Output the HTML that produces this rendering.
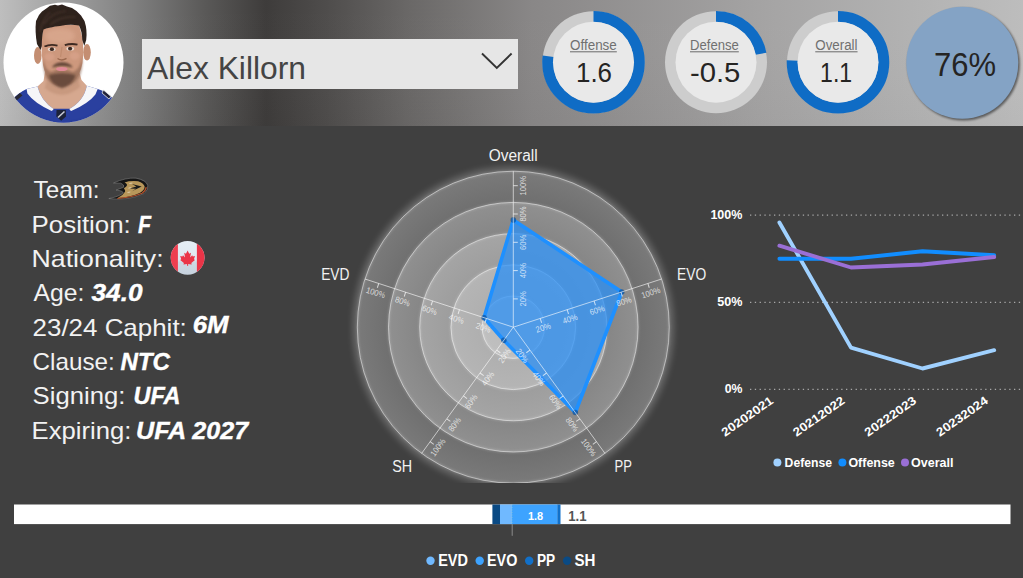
<!DOCTYPE html>
<html lang="en"><head><meta charset="utf-8"><title>Player Card - Alex Killorn</title>
<style>
html,body{margin:0;padding:0;background:#404040;overflow:hidden}
body{width:1023px;height:578px;font-family:"Liberation Sans",sans-serif}
svg{display:block}
</style></head><body>
<svg width="1023" height="578" viewBox="0 0 1023 578" font-family="Liberation Sans, sans-serif">
<defs>
<linearGradient id="hdr" x1="0" y1="0" x2="1" y2="0">
<stop offset="0" stop-color="#bebebe"/>
<stop offset="0.04" stop-color="#ababab"/>
<stop offset="0.08" stop-color="#989898"/>
<stop offset="0.13" stop-color="#808080"/>
<stop offset="0.20" stop-color="#5a5958"/>
<stop offset="0.26" stop-color="#3e3c3b"/>
<stop offset="0.32" stop-color="#4f4d4c"/>
<stop offset="0.40" stop-color="#6a6867"/>
<stop offset="0.52" stop-color="#898787"/>
<stop offset="0.75" stop-color="#a5a4a4"/>
<stop offset="0.9" stop-color="#b3b3b3"/>
<stop offset="1" stop-color="#bdbdbd"/>
</linearGradient>
<linearGradient id="hdrv" x1="0" y1="0" x2="0" y2="1">
<stop offset="0" stop-color="#fff" stop-opacity="0.0"/>
<stop offset="1" stop-color="#000" stop-opacity="0.025"/>
</linearGradient>
<clipPath id="avc"><circle cx="63.5" cy="62.5" r="60"/></clipPath>
<clipPath id="radclip"><rect x="340" y="140" width="350" height="343"/></clipPath>
<filter id="b1" x="-20%" y="-20%" width="140%" height="140%"><feGaussianBlur stdDeviation="1"/></filter>
<filter id="b2" x="-20%" y="-20%" width="140%" height="140%"><feGaussianBlur stdDeviation="2"/></filter>
<filter id="b3" x="-20%" y="-20%" width="140%" height="140%"><feGaussianBlur stdDeviation="3"/></filter>
<filter id="b06" x="-20%" y="-20%" width="140%" height="140%"><feGaussianBlur stdDeviation="0.6"/></filter>
</defs>
<rect x="0" y="0" width="1023" height="578" fill="#404040"/>
<rect x="0" y="0" width="1023" height="126" fill="url(#hdr)"/>
<rect x="0" y="0" width="1023" height="126" fill="url(#hdrv)"/>
<g id="avatar">
<circle cx="63.5" cy="62.5" r="60" fill="#ffffff"/>
<g clip-path="url(#avc)">
<path d="M4 126 L12 100 Q18 93 26.6 89 L37.5 86.6 L62 112 L86.8 85.8 L97.7 89 Q108 92 113 99 L122 126 Z" fill="#2a3f9f" filter="url(#b06)"/>
<path d="M20 108 Q40 122 62 123 Q86 122 106 106 L112 126 L12 126 Z" fill="#22358c" opacity="0.5" filter="url(#b1)"/>
<path d="M45 72 L79 71 L81.5 80 L86.8 85.8 Q84 101 68.8 109.3 L62 110.5 L54 109.3 Q41 101 37.5 86.6 L43.5 81 Z" fill="#d6a88f" filter="url(#b06)"/>
<path d="M46.5 80 Q62 97 78.5 79 L80 87 Q62 102 45 88 Z" fill="#b98a70" opacity="0.5" filter="url(#b1)"/>
<path d="M26.6 89 L37.5 86.6 Q41 101 54 109.3 L51.6 111 Q34 103 27.4 93.6 Z" fill="#f6f6f8" filter="url(#b06)"/>
<path d="M97.7 89 L86.8 85.8 Q84 101 68.8 109.3 L71.2 111 Q89 103 95.4 94.4 Z" fill="#f6f6f8" filter="url(#b06)"/>
<path d="M14 98 L20 93 L22.5 95.5 L16.5 100.5 Z" fill="#2a2a35" filter="url(#b06)"/>
<path d="M103.5 90 L111 96.5 L109 99 L102 93 Z" fill="#20243a" stroke="#e8e8e8" stroke-width="0.8" filter="url(#b06)"/>
<path d="M53.5 108.8 L69.5 108.8 L70 126 L53 126 Z" fill="#2a3f9f" filter="url(#b06)"/>
<path d="M56.5 110 L65.8 110 L66 116.5 L61.2 120.8 L56.3 116.5 Z" fill="#1d2238" filter="url(#b06)"/>
<path d="M58 117.5 L64.5 111.5" stroke="#c9ccd6" stroke-width="1.6" filter="url(#b06)"/>
<ellipse cx="37.8" cy="55.5" rx="3.8" ry="8.5" fill="#c48e72" filter="url(#b06)"/>
<ellipse cx="87" cy="52.3" rx="3.8" ry="8.3" fill="#c48e72" filter="url(#b06)"/>
<path d="M41.5 40 Q41 52 43 65 Q45 76 52 83 Q62 90.5 72.5 83 Q80 76 82.5 63 Q84 50 82.5 38 L79 25 L60 25 L43 29 Z" fill="#cd987d" filter="url(#b06)"/>
<ellipse cx="60" cy="36" rx="15" ry="8" fill="#dcab92" opacity="0.7" filter="url(#b2)"/>
<ellipse cx="49.5" cy="57" rx="5" ry="4" fill="#dba58e" opacity="0.6" filter="url(#b1)"/>
<ellipse cx="74.5" cy="56" rx="5" ry="4" fill="#dba58e" opacity="0.6" filter="url(#b1)"/>
<path d="M42.8 58 Q45 70 51 72 Q62 66 73 72 Q80 70 82.6 56 Q83 70 79 78 Q73 86 62 88.5 Q51 86 46 78 Q42.8 70 42.8 58 Z" fill="#8a6350" opacity="0.62" filter="url(#b1)"/>
<path d="M49 75 Q62 71.5 75.5 75 Q74 84 62 87.8 Q50 84 49 75 Z" fill="#5c4034" opacity="0.8" filter="url(#b1)"/>
<path d="M52.2 67.8 Q53.5 63 62 62.3 Q71 63 72.6 67.8 Q67 65.6 62 66 Q57 65.6 52.2 67.8 Z" fill="#553a2f" opacity="0.9" filter="url(#b1)"/>
<ellipse cx="61.8" cy="69" rx="5.8" ry="2.1" fill="#e08a97" filter="url(#b06)"/>
<path d="M62 47 L60.5 57" stroke="#b98466" stroke-width="1.2" fill="none" opacity="0.6" filter="url(#b06)"/>
<path d="M57.5 58.5 Q62 61.5 66.5 58.3" stroke="#9c6a50" stroke-width="1.5" fill="none" filter="url(#b06)"/>
<ellipse cx="51.7" cy="49.3" rx="3.9" ry="1.9" fill="#e9d9cf" filter="url(#b06)"/>
<ellipse cx="51.9" cy="49.2" rx="2.1" ry="1.9" fill="#3b2a24" filter="url(#b06)"/>
<ellipse cx="70.3" cy="48.7" rx="3.9" ry="1.9" fill="#e9d9cf" filter="url(#b06)"/>
<ellipse cx="70.1" cy="48.6" rx="2.1" ry="1.9" fill="#3b2a24" filter="url(#b06)"/>
<path d="M44.5 46.6 Q50 43.8 57.5 45.6" stroke="#3e2a22" stroke-width="1.9" fill="none" filter="url(#b06)"/>
<path d="M64.8 45.2 Q71 43 77.5 44.6" stroke="#3e2a22" stroke-width="1.9" fill="none" filter="url(#b06)"/>
<path d="M40.5 50 L37 44 Q34.8 32 36 21 L39 15 L42 11.5 L47 8 L50 5.8 L55 4.8 L58 5.6 L62 4.6 L67 6.4 L72 8 L76.5 11 L81 15.5 L84.5 21 Q87.5 30 86.2 40 L84.3 46 L82.3 40 Q82 31 79 25.5 Q70 23.8 60 26 Q50 27 43.5 29.5 Q41.8 36 41.8 46 Z" fill="#2d211d" filter="url(#b06)"/>
<path d="M44 24 Q52 12 66 11 M50 25 Q60 16 76 17 M40 32 Q42 20 50 12" stroke="#4a372e" stroke-width="1.6" fill="none" opacity="0.7" filter="url(#b1)"/>
</g></g>
<rect x="142" y="39" width="376" height="50" fill="#e6e6e6"/>
<text x="147" y="78.7" font-size="32" fill="#444444" textLength="159" lengthAdjust="spacingAndGlyphs">Alex Killorn</text>
<path d="M482 53.5 L496.8 68 L511.6 53.5" fill="none" stroke="#333" stroke-width="1.9"/>
<circle cx="593.5" cy="62.2" r="51" fill="#cdcdcd"/>
<circle cx="593.5" cy="62.2" r="45.75" fill="none" stroke="#0f6cc5" stroke-width="11.1" stroke-dasharray="221.34 287.46" transform="rotate(-90 593.5 62.2)"/>
<circle cx="593.5" cy="62.2" r="40.5" fill="#e9e9e9"/>
<text x="593.4" y="50" font-size="14" fill="#707070" text-anchor="middle" textLength="46.8" lengthAdjust="spacingAndGlyphs">Offense</text>
<rect x="570.0" y="51.3" width="46.8" height="1" fill="#6a6a6a"/>
<text x="594" y="82" font-size="28" fill="#252423" text-anchor="middle" textLength="36" lengthAdjust="spacingAndGlyphs">1.6</text>
<circle cx="716" cy="62.2" r="51" fill="#cdcdcd"/>
<circle cx="716" cy="62.2" r="45.75" fill="none" stroke="#0f6cc5" stroke-width="11.1" stroke-dasharray="63.24 287.46" transform="rotate(-90 716 62.2)"/>
<circle cx="716" cy="62.2" r="40.5" fill="#e9e9e9"/>
<text x="714.4" y="50" font-size="14" fill="#707070" text-anchor="middle" textLength="48.8" lengthAdjust="spacingAndGlyphs">Defense</text>
<rect x="690.0" y="51.3" width="48.8" height="1" fill="#6a6a6a"/>
<text x="715.1" y="82" font-size="28" fill="#252423" text-anchor="middle" textLength="50.4" lengthAdjust="spacingAndGlyphs">-0.5</text>
<circle cx="838" cy="62.2" r="51" fill="#cdcdcd"/>
<circle cx="838" cy="62.2" r="45.75" fill="none" stroke="#0f6cc5" stroke-width="11.1" stroke-dasharray="217.03 287.46" transform="rotate(-90 838 62.2)"/>
<circle cx="838" cy="62.2" r="40.5" fill="#e9e9e9"/>
<text x="836.4" y="50" font-size="14" fill="#707070" text-anchor="middle" textLength="42.3" lengthAdjust="spacingAndGlyphs">Overall</text>
<rect x="815.25" y="51.3" width="42.3" height="1" fill="#6a6a6a"/>
<text x="836.1" y="82" font-size="28" fill="#252423" text-anchor="middle" textLength="32" lengthAdjust="spacingAndGlyphs">1.1</text>
<circle cx="963.7" cy="64.3" r="56.2" fill="#000" opacity="0.5" filter="url(#b1)"/>
<circle cx="962.3" cy="62.8" r="56" fill="#84a3c5"/>
<text x="965.1" y="76" font-size="34" fill="#252423" text-anchor="middle" textLength="62" lengthAdjust="spacingAndGlyphs">76%</text>
<text x="33.6" y="198.4" font-size="24" fill="#f2f2f2" textLength="66" lengthAdjust="spacingAndGlyphs">Team:</text>
<text x="31.6" y="232.7" font-size="24" fill="#f2f2f2" textLength="99.2" lengthAdjust="spacingAndGlyphs">Position:</text>
<text x="138" y="232.7" font-size="24" fill="#ffffff" font-weight="bold" font-style="italic" textLength="13" lengthAdjust="spacingAndGlyphs" stroke="#fff" stroke-width="0.4">F</text>
<text x="31.6" y="267.0" font-size="24" fill="#f2f2f2" textLength="132" lengthAdjust="spacingAndGlyphs">Nationality:</text>
<text x="33.6" y="301.3" font-size="24" fill="#f2f2f2" textLength="50.8" lengthAdjust="spacingAndGlyphs">Age:</text>
<text x="91.5" y="301.3" font-size="24" fill="#ffffff" font-weight="bold" font-style="italic" textLength="51" lengthAdjust="spacingAndGlyphs" stroke="#fff" stroke-width="0.4">34.0</text>
<text x="32.6" y="335.6" font-size="24" fill="#f2f2f2" textLength="154.2" lengthAdjust="spacingAndGlyphs">23/24 Caphit:</text>
<text x="192.7" y="333.1" font-size="24" fill="#ffffff" font-weight="bold" font-style="italic" textLength="35.9" lengthAdjust="spacingAndGlyphs" stroke="#fff" stroke-width="0.4">6M</text>
<text x="32.6" y="369.9" font-size="24" fill="#f2f2f2" textLength="82.2" lengthAdjust="spacingAndGlyphs">Clause:</text>
<text x="120.4" y="369.9" font-size="24" fill="#ffffff" font-weight="bold" font-style="italic" textLength="49.7" lengthAdjust="spacingAndGlyphs" stroke="#fff" stroke-width="0.4">NTC</text>
<text x="32.6" y="404.2" font-size="24" fill="#f2f2f2" textLength="92.8" lengthAdjust="spacingAndGlyphs">Signing:</text>
<text x="133.5" y="404.2" font-size="24" fill="#ffffff" font-weight="bold" font-style="italic" textLength="46.9" lengthAdjust="spacingAndGlyphs" stroke="#fff" stroke-width="0.4">UFA</text>
<text x="31.6" y="438.5" font-size="24" fill="#f2f2f2" textLength="99.8" lengthAdjust="spacingAndGlyphs">Expiring:</text>
<text x="136" y="438.5" font-size="24" fill="#ffffff" font-weight="bold" font-style="italic" textLength="112.2" lengthAdjust="spacingAndGlyphs" stroke="#fff" stroke-width="0.4">UFA 2027</text>
<g id="duck">
<path d="M 108.86 198.58 Q 129.07 201.00 144.29 193.39 Q 148.44 189.38 147.75 185.57 Q 146.51 180.24 135.99 178.17 Q 125.61 177.47 113.49 183.01 L 120.76 183.15 Q 124.91 184.88 123.53 187.30 L 116.06 190.07 Q 122.84 190.76 123.18 192.84 Q 120.07 196.30 108.86 198.58 Z" fill="#161616" stroke="#8a8a8a" stroke-width="0.5"/>
<path d="M 124.57 182.46 Q 129.76 180.52 138.06 181.21 Q 143.74 183.01 144.64 186.47 Q 144.84 189.79 140.14 192.70 Q 131.14 196.99 117.65 198.10 Q 122.84 195.61 125.05 191.80 Q 125.61 190.07 123.88 188.13 Q 126.64 186.61 127.13 184.88 Q 126.64 183.49 124.57 182.46 Z" fill="#b8975a"/>
<path d="M 117.30 198.51 Q 131.14 197.54 141.94 193.25 Q 145.95 190.42 146.23 187.16" fill="none" stroke="#b4522c" stroke-width="1.2"/>
<path d="M 131.97 184.05 L 141.66 186.61 L 131.97 191.18 L 135.99 188.69 L 129.62 188.41 L 136.33 186.61 Z" fill="#1a1a1a"/>
<path d="M 129.41 183.49 L 132.39 183.01 M 128.51 188.13 L 131.28 187.65 M 127.54 192.49 L 130.31 192.01" stroke="#e8e0d0" stroke-width="0.7" fill="none"/>
</g>
<g id="flag"><defs><clipPath id="fc"><circle cx="187.6" cy="257.8" r="16.9"/></clipPath><linearGradient id="fw" x1="0" y1="0" x2="0" y2="1"><stop offset="0" stop-color="#e6eef5"/><stop offset="0.55" stop-color="#dfe8f0"/><stop offset="0.62" stop-color="#cdd8e3"/><stop offset="1" stop-color="#c6d2de"/></linearGradient></defs>
<g clip-path="url(#fc)"><rect x="170" y="240" width="36" height="36" fill="url(#fw)"/>
<rect x="170" y="240" width="7.9" height="36" fill="#ee3f4f"/><rect x="196.9" y="240" width="9" height="36" fill="#ea3447"/>
<polygon points="187.60,250.60 189.23,253.71 191.00,252.82 190.12,257.42 192.19,255.20 192.78,256.53 195.00,256.09 193.96,259.35 195.00,260.02 191.30,263.06 191.74,264.39 188.12,263.95 188.19,265.80 187.01,265.80 187.08,263.95 183.46,264.39 183.90,263.06 180.20,260.02 181.24,259.35 180.20,256.09 182.42,256.53 183.01,255.20 185.08,257.42 184.20,252.82 185.97,253.71" fill="#eb3547"/>
</g></g>
<g id="radar" clip-path="url(#radclip)">
<circle cx="513.3" cy="327.2" r="157.0" fill="none" stroke="#fff" stroke-width="7" opacity="0.22" filter="url(#b3)"/>
<defs>
<radialGradient id="bg0" cx="513.3" cy="327.2" r="156.0" gradientUnits="userSpaceOnUse"><stop offset="0.800" stop-color="#6f6f6f"/><stop offset="1" stop-color="#7a7a7a"/></radialGradient>
<radialGradient id="bg1" cx="513.3" cy="327.2" r="124.8" gradientUnits="userSpaceOnUse"><stop offset="0.750" stop-color="#868686"/><stop offset="1" stop-color="#909090"/></radialGradient>
<radialGradient id="bg2" cx="513.3" cy="327.2" r="93.6" gradientUnits="userSpaceOnUse"><stop offset="0.667" stop-color="#9d9d9d"/><stop offset="1" stop-color="#a5a5a5"/></radialGradient>
<radialGradient id="bg3" cx="513.3" cy="327.2" r="62.4" gradientUnits="userSpaceOnUse"><stop offset="0.500" stop-color="#afafaf"/><stop offset="1" stop-color="#b5b5b5"/></radialGradient>
<radialGradient id="bg4" cx="513.3" cy="327.2" r="31.2" gradientUnits="userSpaceOnUse"><stop offset="0.000" stop-color="#bbbbbb"/><stop offset="1" stop-color="#bfbfbf"/></radialGradient>
</defs>
<circle cx="513.3" cy="327.2" r="156.0" fill="url(#bg0)"/>
<circle cx="513.3" cy="327.2" r="124.8" fill="url(#bg1)"/>
<circle cx="513.3" cy="327.2" r="93.6" fill="url(#bg2)"/>
<circle cx="513.3" cy="327.2" r="62.4" fill="url(#bg3)"/>
<circle cx="513.3" cy="327.2" r="31.2" fill="url(#bg4)"/>
<circle cx="513.3" cy="327.2" r="156.0" fill="none" stroke="#fff" stroke-width="2.5" opacity="0.15" filter="url(#b1)"/>
<circle cx="513.3" cy="327.2" r="156.0" fill="none" stroke="#fff" stroke-width="0.9" opacity="0.55"/>
<circle cx="513.3" cy="327.2" r="124.8" fill="none" stroke="#fff" stroke-width="2.5" opacity="0.15" filter="url(#b1)"/>
<circle cx="513.3" cy="327.2" r="124.8" fill="none" stroke="#fff" stroke-width="0.9" opacity="0.55"/>
<circle cx="513.3" cy="327.2" r="93.6" fill="none" stroke="#fff" stroke-width="2.5" opacity="0.15" filter="url(#b1)"/>
<circle cx="513.3" cy="327.2" r="93.6" fill="none" stroke="#fff" stroke-width="0.9" opacity="0.55"/>
<circle cx="513.3" cy="327.2" r="62.4" fill="none" stroke="#fff" stroke-width="2.5" opacity="0.15" filter="url(#b1)"/>
<circle cx="513.3" cy="327.2" r="62.4" fill="none" stroke="#fff" stroke-width="0.9" opacity="0.55"/>
<circle cx="513.3" cy="327.2" r="31.2" fill="none" stroke="#fff" stroke-width="2.5" opacity="0.15" filter="url(#b1)"/>
<circle cx="513.3" cy="327.2" r="31.2" fill="none" stroke="#fff" stroke-width="0.9" opacity="0.55"/>
<polygon points="513.3,219.9 621.8,292.0 575.3,412.5 503.8,340.3 484.0,317.7" fill="#2a8ff5" fill-opacity="0.74" stroke="#1e90ff" stroke-width="3.6" stroke-linejoin="round"/>
<circle cx="513.3" cy="219.9" r="2.8" fill="#0a4688" opacity="0.6"/>
<circle cx="621.8" cy="292.0" r="2.8" fill="#0a4688" opacity="0.6"/>
<circle cx="575.3" cy="412.5" r="2.8" fill="#0a4688" opacity="0.6"/>
<circle cx="503.8" cy="340.3" r="2.8" fill="#0a4688" opacity="0.6"/>
<circle cx="484.0" cy="317.7" r="2.8" fill="#0a4688" opacity="0.6"/>
<line x1="513.3" y1="327.2" x2="513.30" y2="171.20" stroke="#fff" stroke-width="1" opacity="0.6"/>
<line x1="513.3" y1="327.2" x2="661.66" y2="278.99" stroke="#fff" stroke-width="1" opacity="0.6"/>
<line x1="513.3" y1="327.2" x2="604.99" y2="453.41" stroke="#fff" stroke-width="1" opacity="0.6"/>
<line x1="513.3" y1="327.2" x2="421.61" y2="453.41" stroke="#fff" stroke-width="1" opacity="0.6"/>
<line x1="513.3" y1="327.2" x2="364.94" y2="278.99" stroke="#fff" stroke-width="1" opacity="0.6"/>
<g transform="translate(513.3,327.2) rotate(-90)">
<line x1="28.3" y1="0" x2="28.3" y2="4.5" stroke="#fff" stroke-width="1" opacity="0.7"/>
<text x="28.3" y="12.6" font-size="8.5" fill="#fff" fill-opacity="0.72" text-anchor="middle" textLength="15.2" lengthAdjust="spacingAndGlyphs">20%</text>
<line x1="56.6" y1="0" x2="56.6" y2="4.5" stroke="#fff" stroke-width="1" opacity="0.7"/>
<text x="56.6" y="12.6" font-size="8.5" fill="#fff" fill-opacity="0.72" text-anchor="middle" textLength="15.2" lengthAdjust="spacingAndGlyphs">40%</text>
<line x1="84.9" y1="0" x2="84.9" y2="4.5" stroke="#fff" stroke-width="1" opacity="0.7"/>
<text x="84.9" y="12.6" font-size="8.5" fill="#fff" fill-opacity="0.72" text-anchor="middle" textLength="15.2" lengthAdjust="spacingAndGlyphs">60%</text>
<line x1="113.2" y1="0" x2="113.2" y2="4.5" stroke="#fff" stroke-width="1" opacity="0.7"/>
<text x="113.2" y="12.6" font-size="8.5" fill="#fff" fill-opacity="0.72" text-anchor="middle" textLength="15.2" lengthAdjust="spacingAndGlyphs">80%</text>
<line x1="141.5" y1="0" x2="141.5" y2="4.5" stroke="#fff" stroke-width="1" opacity="0.7"/>
<text x="141.5" y="12.6" font-size="8.5" fill="#fff" fill-opacity="0.72" text-anchor="middle" textLength="19.5" lengthAdjust="spacingAndGlyphs">100%</text>
</g>
<g transform="translate(513.3,327.2) rotate(-18)">
<line x1="28.3" y1="0" x2="28.3" y2="4.5" stroke="#fff" stroke-width="1" opacity="0.7"/>
<text x="28.3" y="12.6" font-size="8.5" fill="#fff" fill-opacity="0.72" text-anchor="middle" textLength="15.2" lengthAdjust="spacingAndGlyphs">20%</text>
<line x1="56.6" y1="0" x2="56.6" y2="4.5" stroke="#fff" stroke-width="1" opacity="0.7"/>
<text x="56.6" y="12.6" font-size="8.5" fill="#fff" fill-opacity="0.72" text-anchor="middle" textLength="15.2" lengthAdjust="spacingAndGlyphs">40%</text>
<line x1="84.9" y1="0" x2="84.9" y2="4.5" stroke="#fff" stroke-width="1" opacity="0.7"/>
<text x="84.9" y="12.6" font-size="8.5" fill="#fff" fill-opacity="0.72" text-anchor="middle" textLength="15.2" lengthAdjust="spacingAndGlyphs">60%</text>
<line x1="113.2" y1="0" x2="113.2" y2="4.5" stroke="#fff" stroke-width="1" opacity="0.7"/>
<text x="113.2" y="12.6" font-size="8.5" fill="#fff" fill-opacity="0.72" text-anchor="middle" textLength="15.2" lengthAdjust="spacingAndGlyphs">80%</text>
<line x1="141.5" y1="0" x2="141.5" y2="4.5" stroke="#fff" stroke-width="1" opacity="0.7"/>
<text x="141.5" y="12.6" font-size="8.5" fill="#fff" fill-opacity="0.72" text-anchor="middle" textLength="19.5" lengthAdjust="spacingAndGlyphs">100%</text>
</g>
<g transform="translate(513.3,327.2) rotate(54)">
<line x1="28.3" y1="0" x2="28.3" y2="4.5" stroke="#fff" stroke-width="1" opacity="0.7"/>
<text x="28.3" y="12.6" font-size="8.5" fill="#fff" fill-opacity="0.72" text-anchor="middle" textLength="15.2" lengthAdjust="spacingAndGlyphs">20%</text>
<line x1="56.6" y1="0" x2="56.6" y2="4.5" stroke="#fff" stroke-width="1" opacity="0.7"/>
<text x="56.6" y="12.6" font-size="8.5" fill="#fff" fill-opacity="0.72" text-anchor="middle" textLength="15.2" lengthAdjust="spacingAndGlyphs">40%</text>
<line x1="84.9" y1="0" x2="84.9" y2="4.5" stroke="#fff" stroke-width="1" opacity="0.7"/>
<text x="84.9" y="12.6" font-size="8.5" fill="#fff" fill-opacity="0.72" text-anchor="middle" textLength="15.2" lengthAdjust="spacingAndGlyphs">60%</text>
<line x1="113.2" y1="0" x2="113.2" y2="4.5" stroke="#fff" stroke-width="1" opacity="0.7"/>
<text x="113.2" y="12.6" font-size="8.5" fill="#fff" fill-opacity="0.72" text-anchor="middle" textLength="15.2" lengthAdjust="spacingAndGlyphs">80%</text>
<line x1="141.5" y1="0" x2="141.5" y2="4.5" stroke="#fff" stroke-width="1" opacity="0.7"/>
<text x="141.5" y="12.6" font-size="8.5" fill="#fff" fill-opacity="0.72" text-anchor="middle" textLength="19.5" lengthAdjust="spacingAndGlyphs">100%</text>
</g>
<g transform="translate(513.3,327.2) rotate(-54)">
<line x1="-28.3" y1="0" x2="-28.3" y2="4.5" stroke="#fff" stroke-width="1" opacity="0.7"/>
<text x="-28.3" y="12.6" font-size="8.5" fill="#fff" fill-opacity="0.72" text-anchor="middle" textLength="15.2" lengthAdjust="spacingAndGlyphs">20%</text>
<line x1="-56.6" y1="0" x2="-56.6" y2="4.5" stroke="#fff" stroke-width="1" opacity="0.7"/>
<text x="-56.6" y="12.6" font-size="8.5" fill="#fff" fill-opacity="0.72" text-anchor="middle" textLength="15.2" lengthAdjust="spacingAndGlyphs">40%</text>
<line x1="-84.9" y1="0" x2="-84.9" y2="4.5" stroke="#fff" stroke-width="1" opacity="0.7"/>
<text x="-84.9" y="12.6" font-size="8.5" fill="#fff" fill-opacity="0.72" text-anchor="middle" textLength="15.2" lengthAdjust="spacingAndGlyphs">60%</text>
<line x1="-113.2" y1="0" x2="-113.2" y2="4.5" stroke="#fff" stroke-width="1" opacity="0.7"/>
<text x="-113.2" y="12.6" font-size="8.5" fill="#fff" fill-opacity="0.72" text-anchor="middle" textLength="15.2" lengthAdjust="spacingAndGlyphs">80%</text>
<line x1="-141.5" y1="0" x2="-141.5" y2="4.5" stroke="#fff" stroke-width="1" opacity="0.7"/>
<text x="-141.5" y="12.6" font-size="8.5" fill="#fff" fill-opacity="0.72" text-anchor="middle" textLength="19.5" lengthAdjust="spacingAndGlyphs">100%</text>
</g>
<g transform="translate(513.3,327.2) rotate(18)">
<line x1="-28.3" y1="0" x2="-28.3" y2="4.5" stroke="#fff" stroke-width="1" opacity="0.7"/>
<text x="-28.3" y="12.6" font-size="8.5" fill="#fff" fill-opacity="0.72" text-anchor="middle" textLength="15.2" lengthAdjust="spacingAndGlyphs">20%</text>
<line x1="-56.6" y1="0" x2="-56.6" y2="4.5" stroke="#fff" stroke-width="1" opacity="0.7"/>
<text x="-56.6" y="12.6" font-size="8.5" fill="#fff" fill-opacity="0.72" text-anchor="middle" textLength="15.2" lengthAdjust="spacingAndGlyphs">40%</text>
<line x1="-84.9" y1="0" x2="-84.9" y2="4.5" stroke="#fff" stroke-width="1" opacity="0.7"/>
<text x="-84.9" y="12.6" font-size="8.5" fill="#fff" fill-opacity="0.72" text-anchor="middle" textLength="15.2" lengthAdjust="spacingAndGlyphs">60%</text>
<line x1="-113.2" y1="0" x2="-113.2" y2="4.5" stroke="#fff" stroke-width="1" opacity="0.7"/>
<text x="-113.2" y="12.6" font-size="8.5" fill="#fff" fill-opacity="0.72" text-anchor="middle" textLength="15.2" lengthAdjust="spacingAndGlyphs">80%</text>
<line x1="-141.5" y1="0" x2="-141.5" y2="4.5" stroke="#fff" stroke-width="1" opacity="0.7"/>
<text x="-141.5" y="12.6" font-size="8.5" fill="#fff" fill-opacity="0.72" text-anchor="middle" textLength="19.5" lengthAdjust="spacingAndGlyphs">100%</text>
</g>
</g>
<text x="513.2" y="161.3" font-size="16" fill="#f2f2f2" text-anchor="middle" textLength="49" lengthAdjust="spacingAndGlyphs">Overall</text>
<text x="321.2" y="279.8" font-size="16" fill="#f2f2f2" textLength="28.3" lengthAdjust="spacingAndGlyphs">EVD</text>
<text x="677" y="279.8" font-size="16" fill="#f2f2f2" textLength="29.2" lengthAdjust="spacingAndGlyphs">EVO</text>
<text x="392.2" y="472" font-size="16" fill="#f2f2f2" textLength="19.9" lengthAdjust="spacingAndGlyphs">SH</text>
<text x="614.6" y="472" font-size="16" fill="#f2f2f2" textLength="17.4" lengthAdjust="spacingAndGlyphs">PP</text>
<line x1="750" y1="215.2" x2="1023" y2="215.2" stroke="#bbb" stroke-width="1.3" stroke-dasharray="1.3 3.5" opacity="0.85"/>
<text x="742.4" y="219.1" font-size="12" fill="#ffffff" text-anchor="end" font-weight="bold" textLength="32" lengthAdjust="spacingAndGlyphs">100%</text>
<line x1="750" y1="302.3" x2="1023" y2="302.3" stroke="#bbb" stroke-width="1.3" stroke-dasharray="1.3 3.5" opacity="0.85"/>
<text x="742.4" y="306.2" font-size="12" fill="#ffffff" text-anchor="end" font-weight="bold" textLength="25.2" lengthAdjust="spacingAndGlyphs">50%</text>
<line x1="750" y1="389.4" x2="1023" y2="389.4" stroke="#bbb" stroke-width="1.3" stroke-dasharray="1.3 3.5" opacity="0.85"/>
<text x="742.4" y="393.3" font-size="12" fill="#ffffff" text-anchor="end" font-weight="bold" textLength="17.7" lengthAdjust="spacingAndGlyphs">0%</text>
<polyline points="779.4,222.5 851.0,347.6 922.5,368.5 994.2,350.2" fill="none" stroke="#a0d1ff" stroke-width="3.9" stroke-linecap="round" stroke-linejoin="round"/>
<polyline points="779.4,258.8 851.0,258.8 922.5,251.3 994.2,255.3" fill="none" stroke="#118dff" stroke-width="3.9" stroke-linecap="round" stroke-linejoin="round"/>
<polyline points="779.4,245.7 851.0,267.5 922.5,264.5 994.2,257.0" fill="none" stroke="#9a6fd6" stroke-width="3.9" stroke-linecap="round" stroke-linejoin="round"/>
<text transform="translate(774.1,402.5) rotate(-35)" font-size="12" font-weight="bold" fill="#fff" text-anchor="end" textLength="60" lengthAdjust="spacingAndGlyphs">20202021</text>
<text transform="translate(845.7,402.5) rotate(-35)" font-size="12" font-weight="bold" fill="#fff" text-anchor="end" textLength="60" lengthAdjust="spacingAndGlyphs">20212022</text>
<text transform="translate(917.2,402.5) rotate(-35)" font-size="12" font-weight="bold" fill="#fff" text-anchor="end" textLength="60" lengthAdjust="spacingAndGlyphs">20222023</text>
<text transform="translate(988.9,402.5) rotate(-35)" font-size="12" font-weight="bold" fill="#fff" text-anchor="end" textLength="60" lengthAdjust="spacingAndGlyphs">20232024</text>
<circle cx="777.4" cy="462.6" r="4" fill="#a0d1ff"/>
<text x="784.6" y="466.9" font-size="12" fill="#ffffff" font-weight="bold" textLength="47.4" lengthAdjust="spacingAndGlyphs">Defense</text>
<circle cx="842.4" cy="462.6" r="4" fill="#118dff"/>
<text x="848.4" y="466.9" font-size="12" fill="#ffffff" font-weight="bold" textLength="46.4" lengthAdjust="spacingAndGlyphs">Offense</text>
<circle cx="905" cy="462.6" r="4" fill="#9a6fd6"/>
<text x="911" y="466.9" font-size="12" fill="#ffffff" font-weight="bold" textLength="42.5" lengthAdjust="spacingAndGlyphs">Overall</text>
<rect x="14" y="504.5" width="996.5" height="19.6" fill="#ffffff"/>
<rect x="492.4" y="504.5" width="7.7" height="19.6" fill="#0a4a84"/>
<rect x="500" y="504.5" width="12" height="19.6" fill="#70b9ff"/>
<rect x="512" y="504.5" width="45.4" height="19.6" fill="#3da3ff"/>
<rect x="557.3" y="504.5" width="3.2" height="19.6" fill="#1170c9"/>
<line x1="512" y1="504.5" x2="512" y2="524" stroke="#9cc" stroke-width="0.8" stroke-dasharray="1 1.5" opacity="0.8"/>
<line x1="512.2" y1="524" x2="512.2" y2="535.8" stroke="#8a8a8a" stroke-width="1"/>
<text x="535.5" y="519.7" font-size="11" fill="#ffffff" text-anchor="middle" font-weight="bold" textLength="15.2" lengthAdjust="spacingAndGlyphs">1.8</text>
<text x="568.2" y="520.9" font-size="14" fill="#555555" font-weight="bold" textLength="18.3" lengthAdjust="spacingAndGlyphs">1.1</text>
<circle cx="430.5" cy="560.7" r="4.2" fill="#70b9ff"/>
<text x="438.2" y="566.3" font-size="16" fill="#ffffff" font-weight="bold" textLength="29.8" lengthAdjust="spacingAndGlyphs">EVD</text>
<circle cx="479.7" cy="560.7" r="4.2" fill="#3da3ff"/>
<text x="487" y="566.3" font-size="16" fill="#ffffff" font-weight="bold" textLength="30.3" lengthAdjust="spacingAndGlyphs">EVO</text>
<circle cx="529.2" cy="560.7" r="4.2" fill="#1170c9"/>
<text x="536.9" y="566.3" font-size="16" fill="#ffffff" font-weight="bold" textLength="18.2" lengthAdjust="spacingAndGlyphs">PP</text>
<circle cx="567.1" cy="560.7" r="4.2" fill="#0a4a84"/>
<text x="574.4" y="566.3" font-size="16" fill="#ffffff" font-weight="bold" textLength="21" lengthAdjust="spacingAndGlyphs">SH</text>
</svg>
</body></html>
